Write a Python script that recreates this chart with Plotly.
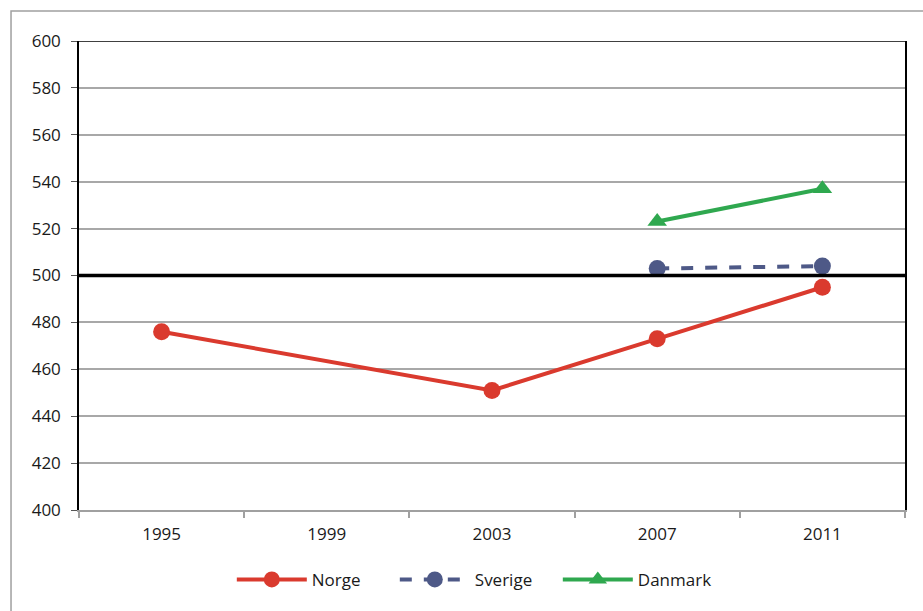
import plotly.graph_objects as go

years = ["1995", "1999", "2003", "2007", "2011"]
norge = [476, None, 451, 473, 495]
sverige = [None, None, None, 503, 504]
danmark = [None, None, None, 523, 537]
y_ticks = list(range(400, 601, 20))

FONT = "Open Sans"
fig = go.Figure()
fig.add_trace(go.Scatter(x=years, y=norge, name="Norge", mode="lines+markers",
                         connectgaps=True,
                         line=dict(color="#DA3A2E", width=4),
                         marker=dict(symbol="circle", size=17, color="#DA3A2E")))
fig.add_trace(go.Scatter(x=years, y=sverige, name="Sverige", mode="lines+markers",
                         line=dict(color="#4E5987", width=4, dash="dash"),
                         marker=dict(symbol="circle", size=17, color="#4E5987")))
fig.add_trace(go.Scatter(x=years, y=danmark, name="Danmark", mode="lines+markers",
                         line=dict(color="#2FA84F", width=4),
                         marker=dict(symbol="triangle-up", size=17, color="#2FA84F")))

# reference line at 500
fig.add_shape(type="line", xref="paper", x0=0, x1=1, yref="y", y0=500, y1=500,
              line=dict(color="black", width=3.5), layer="above")
# top border of plot area
fig.add_shape(type="line", xref="paper", x0=0, x1=1, yref="y", y0=600, y1=600,
              line=dict(color="black", width=1.5), layer="above")
# outer chart frame
fig.add_shape(type="rect", xref="paper", yref="paper", x0=-0.0823, x1=1.05,
              y0=-0.3, y1=1.064, line=dict(color="#A0A0A0", width=1.5),
              fillcolor="rgba(0,0,0,0)", layer="below")

fig.update_layout(
    width=923, height=611,
    margin=dict(l=79, r=18, t=41, b=101),
    paper_bgcolor="white", plot_bgcolor="white",
    font=dict(family=FONT, size=17, color="#1a1a1a"),
    showlegend=True,
    legend=dict(orientation="h", x=0.185, xanchor="left", y=-0.149, yanchor="middle",
                font=dict(size=17), itemwidth=70, entrywidth=78, traceorder="normal"),
)
fig.update_xaxes(type="category", categoryorder="array", categoryarray=years,
                 range=[-0.5, 4.5],
                 tickson="boundaries", ticks="outside", ticklen=6, tickcolor="#A0A0A0",
                 tickwidth=2, showline=True, linecolor="#A0A0A0", linewidth=2,
                 showgrid=False, ticklabelstandoff=8)
fig.update_yaxes(range=[400, 600], tickvals=y_ticks, ticks="outside", ticklen=6,
                 tickcolor="#555555", showline=True, linecolor="black", linewidth=1.5,
                 mirror=True, showgrid=True, gridcolor="#A8A8A8", gridwidth=1.5,
                 zeroline=False, ticklabelstandoff=7)

fig.write_html("out.html")
